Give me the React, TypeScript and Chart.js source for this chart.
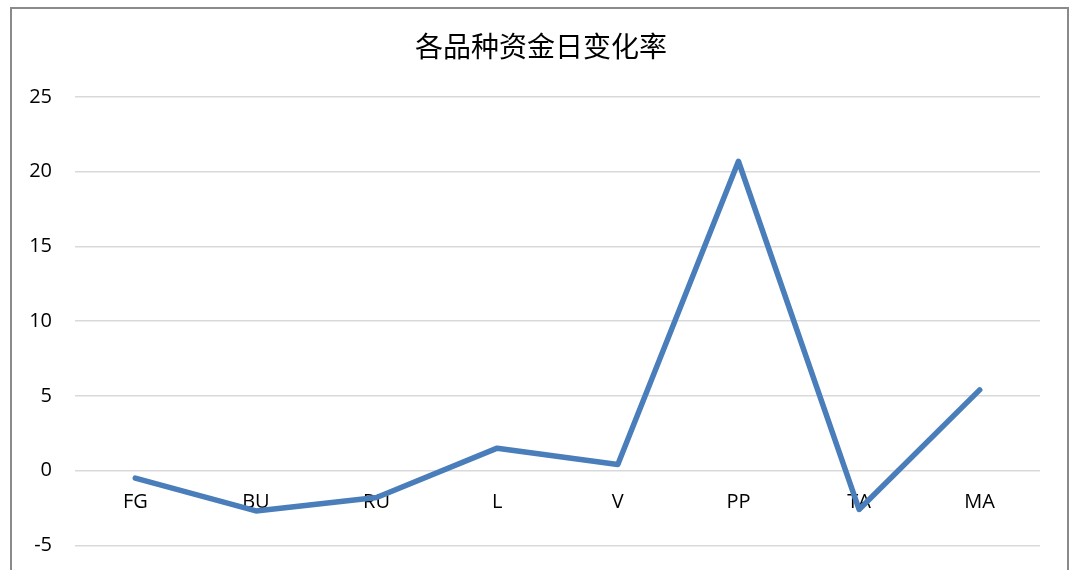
import React, { useEffect, useRef } from "react";
import { Chart, registerables } from "chart.js";

Chart.register(...registerables);

const categories = ["FG", "BU", "RU", "L", "V", "PP", "TA", "MA"];
const changeRates = [-0.5, -2.7, -1.8, 1.5, 0.4, 20.7, -2.6, 5.4];
const chartTitle = "各品种资金日变化率";
const yMin = -10;
const yMax = 25;
const yStep = 5;

const borderTitlePlugin = {
  id: "outerBorderTitle",
  beforeDraw(chart: any) {
    const ctx = chart.ctx;
    ctx.save();
    ctx.fillStyle = "#ffffff";
    ctx.fillRect(0, 0, chart.width, chart.height);
    ctx.strokeStyle = "#8a8a8a";
    ctx.lineWidth = 2;
    ctx.strokeRect(11, 8, 1057, chart.height + 20);
    ctx.fillStyle = "#000000";
    ctx.font = "28px 'Noto Sans CJK SC', sans-serif";
    ctx.textAlign = "center";
    ctx.textBaseline = "middle";
    ctx.fillText(chartTitle, 541, 46);
    ctx.restore();
  },
};

export default function App() {
  const ref = useRef<HTMLCanvasElement | null>(null);

  useEffect(() => {
    if (!ref.current) return;
    const chart = new Chart(ref.current, {
      type: "line",
      data: {
        labels: categories,
        datasets: [
          {
            data: changeRates,
            borderColor: "#4a7ebb",
            backgroundColor: "#4a7ebb",
            borderWidth: 5.5,
            pointRadius: 0,
            tension: 0,
            borderJoinStyle: "round",
            borderCapStyle: "round",
          },
        ],
      },
      options: {
        animation: false,
        responsive: false,
        layout: { padding: { left: 0, right: 37, top: 97, bottom: 26 } },
        plugins: {
          legend: { display: false },
          tooltip: { enabled: false },
          title: { display: false },
        },
        scales: {
          x: {
            position: { y: 0 } as any,
            offset: true,
            grid: { display: false, drawTicks: false },
            border: { display: false },
            ticks: {
              color: "#000000",
              padding: 20,
              maxRotation: 0,
              font: { family: "'Open Sans', sans-serif", size: 20 },
            },
          },
          y: {
            min: yMin,
            max: yMax,
            grid: { color: "#d9d9d9", lineWidth: 1.5, drawTicks: false },
            border: { display: false },
            ticks: {
              stepSize: yStep,
              color: "#000000",
              padding: 23,
              font: { family: "'Open Sans', sans-serif", size: 20 },
            },
            afterFit(scale: any) {
              scale.width = 75;
            },
          },
        },
      },
      plugins: [borderTitlePlugin],
    });
    return () => chart.destroy();
  }, []);

  return (
    <div
      style={{
        position: "absolute",
        left: 0,
        top: 0,
        width: 1077,
        height: 570,
        overflow: "hidden",
        background: "#ffffff",
      }}
    >
      <canvas ref={ref} width={1077} height={655} style={{ display: "block" }} />
    </div>
  );
}
